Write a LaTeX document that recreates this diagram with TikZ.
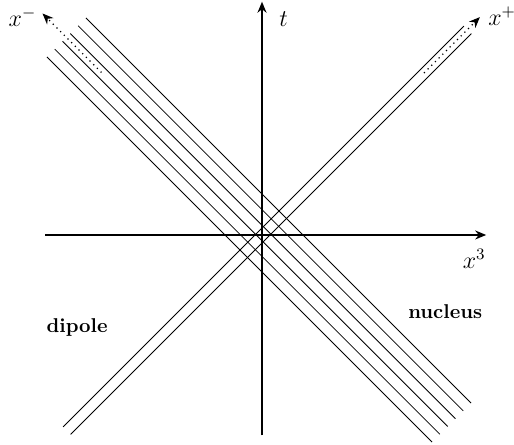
\documentclass[tikz,border=0pt]{standalone}
\usetikzlibrary{arrows.meta,calc}
\tikzset{
  >={Stealth[length=5.5pt,width=4.5pt]},
  axis/.style={->,thick},
  wline/.style={thin},
  boost/.style={->,dotted,semithick},
  lab/.style={font=\large},
  tag/.style={font=\bfseries},
}
\begin{document}
\begin{tikzpicture}
\useasboundingbox (-4.605,-3.691) rectangle (4.429,4.130);

% axes
\coordinate (tbot) at (0,-3.52);
\coordinate (ttop) at (0,4.10);
\coordinate (xl) at (-3.81,0);
\coordinate (xr) at (3.94,0);
\draw[axis] (tbot) -- (ttop);
\draw[axis] (xl) -- (xr);

% nucleus: lines at fixed x^+
\foreach \a in {-0.650,-0.376,-0.102,0.172,0.446,0.721}
  \draw[wline] ({(\a-6.91)/2},{(\a+6.91)/2}) -- ({(\a+6.63)/2},{(\a-6.63)/2});

% dipole: lines at fixed x^-
\foreach \d in {-0.123,0.141}
  \draw[wline] ({(-6.87+\d)/2},{(-6.87-\d)/2}) -- ({(7.22+\d)/2},{(7.22-\d)/2});

% direction of motion
\coordinate (pstart) at (2.847,2.847);
\coordinate (pend) at (3.83,3.83);
\coordinate (mstart) at (-2.821,2.856);
\coordinate (mend) at (-3.858,3.893);
\draw[boost] (pstart) -- (pend);
\draw[boost] (mstart) -- (mend);

\node[lab] (tlab) at (0.38,3.80) {$t$};
\node[lab] (x3lab) at (3.73,-0.42) {$x^3$};
\node[lab] (xmlab) at (-4.21,3.83) {$x^-$};
\node[lab] (xplab) at (4.22,3.85) {$x^+$};
\node[tag] (dip) at (-3.25,-1.63) {dipole};
\node[tag] (nuc) at (3.22,-1.35) {nucleus};

\end{tikzpicture}
\end{document}
